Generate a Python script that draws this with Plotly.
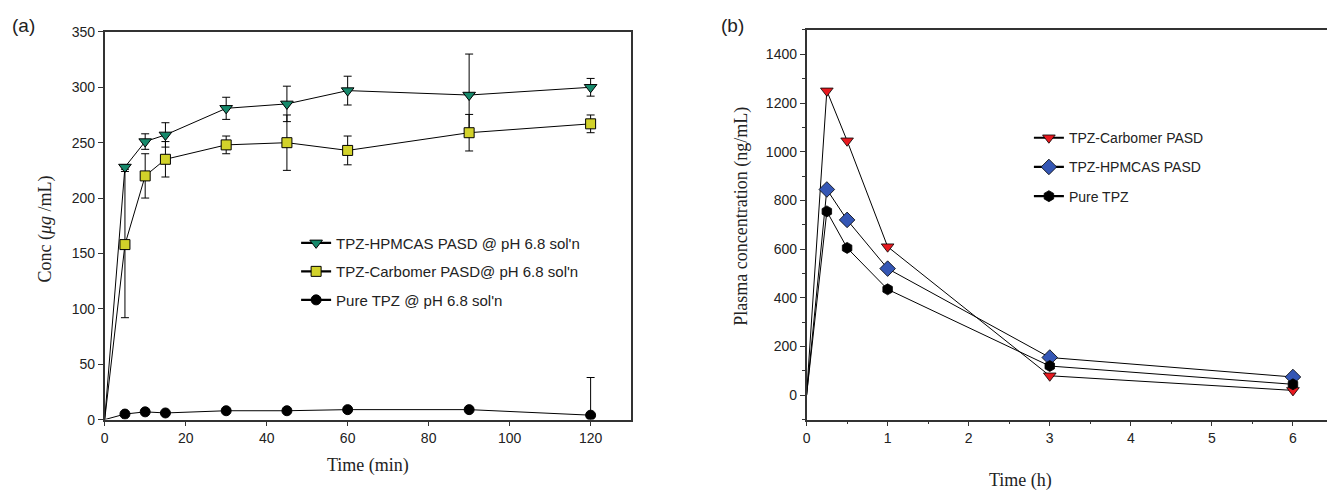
import plotly.graph_objects as go

# ---- Panel (a): in-vitro dissolution at pH 6.8 ----
time_min = [0, 5, 10, 15, 30, 45, 60, 90, 120]
hpmcas_conc = [0, 228, 251, 257, 281, 285, 297, 293, 300]
hpmcas_err = [0, 2, 7, 11, 10, 16, 13, 37, 8]
carbomer_conc = [0, 158, 220, 235, 248, 250, 243, 259, 267]
carbomer_err = [0, 66, 20, 16, 8, 25, 13, 16.5, 8]
pure_conc = [0, 5, 7, 6, 8, 8, 9, 9, 4]
pure_err = [0, 1, 1, 1, 1, 1, 1, 1, 34]

# ---- Panel (b): plasma concentration profile ----
time_h = [0, 0.25, 0.5, 1, 3, 6]
carbomer_plasma = [0, 1250, 1045, 610, 80, 20]
hpmcas_plasma = [0, 845, 720, 520, 155, 75]
pure_plasma = [0, 755, 605, 435, 120, 45]

W, H = 1327, 490

def px_x(p):
    return p / W

def px_y(p):
    return 1 - p / H

fig = go.Figure()

thin = dict(color="black", width=1)
err_style = dict(type="data", visible=True, color="black", thickness=1, width=4)


def add_series(x, y, name, symbol, size, color, xa, ya, leg, err=None, outline=1):
    mk = dict(symbol=symbol, size=size, color=color, line=dict(color="black", width=outline))
    # connecting line starting from the origin (no marker at t = 0)
    fig.add_trace(go.Scatter(x=x, y=y, mode="lines", line=thin, showlegend=False,
                             hoverinfo="skip", xaxis=xa, yaxis=ya))
    # sampled points with markers and error bars
    kw = {}
    if err is not None:
        kw["error_y"] = dict(array=err[1:], **err_style)
    fig.add_trace(go.Scatter(x=x[1:], y=y[1:], mode="markers", marker=mk, name=name,
                             showlegend=False, xaxis=xa, yaxis=ya, **kw))
    # legend key: heavier line with the marker
    fig.add_trace(go.Scatter(x=[None], y=[None], mode="lines+markers", name=name,
                             line=dict(color="black", width=2.2), marker=mk,
                             legendgroup=name, xaxis=xa, yaxis=ya, legend=leg))


add_series(time_min, hpmcas_conc, "TPZ-HPMCAS PASD @ pH 6.8 sol'n", "triangle-down", 11,
           "#16896b", "x", "y", "legend", err=hpmcas_err)
add_series(time_min, carbomer_conc, "TPZ-Carbomer PASD@ pH 6.8 sol'n", "square", 10,
           "#d2d22a", "x", "y", "legend", err=carbomer_err)
add_series(time_min, pure_conc, "Pure TPZ @ pH 6.8 sol'n", "circle", 10,
           "black", "x", "y", "legend", err=pure_err)

add_series(time_h, carbomer_plasma, "TPZ-Carbomer PASD", "triangle-down", 11,
           "#e8191f", "x2", "y2", "legend2", outline=0.8)
add_series(time_h, hpmcas_plasma, "TPZ-HPMCAS PASD", "diamond", 12,
           "#3557b5", "x2", "y2", "legend2", outline=0.8)
add_series(time_h, pure_plasma, "Pure TPZ", "hexagon", 11,
           "black", "x2", "y2", "legend2", outline=0.8)

tickfont = dict(family="Liberation Sans, Arial, sans-serif", size=14, color="#222")
axis_common = dict(showline=True, linecolor="#333", linewidth=1.5, ticks="outside",
                   ticklen=5, tickwidth=1, tickcolor="#333", showgrid=False,
                   zeroline=False, tickfont=tickfont)

fig.update_layout(
    width=W, height=H, margin=dict(l=0, r=0, t=0, b=0),
    paper_bgcolor="white", plot_bgcolor="white", showlegend=True,
    xaxis=dict(domain=[px_x(101), px_x(629)], range=[0, 130], tickvals=[0, 20, 40, 60, 80, 100, 120],
               mirror=True, anchor="y", **axis_common),
    yaxis=dict(domain=[px_y(425.5), px_y(24.7)], range=[0, 350], dtick=50,
               mirror=True, anchor="x", **axis_common),
    xaxis2=dict(domain=[px_x(805), 1.0], range=[0, 6.42], tickvals=[0, 1, 2, 3, 4, 5, 6],
                mirror=True, anchor="y2",
                minor=dict(ticks="outside", ticklen=3, dtick=0.5, tickcolor="#333"),
                **axis_common),
    yaxis2=dict(domain=[px_y(425.5), px_y(22.7)], range=[-100, 1500],
                tickvals=[0, 200, 400, 600, 800, 1000, 1200, 1400], anchor="x2",
                minor=dict(ticks="outside", ticklen=3, dtick=100, tickcolor="#333"),
                **axis_common),
    legend=dict(x=px_x(293), y=px_y(226), xanchor="left", yanchor="top",
                bgcolor="rgba(0,0,0,0)", tracegroupgap=6,
                font=dict(family="Liberation Sans, Arial, sans-serif", size=15, color="#222")),
    legend2=dict(x=px_x(1028), y=px_y(118), xanchor="left", yanchor="top",
                 bgcolor="rgba(0,0,0,0)", tracegroupgap=8,
                 font=dict(family="Liberation Sans, Arial, sans-serif", size=14, color="#222")),
)

serif = dict(family="Liberation Serif, Times New Roman, serif", size=18, color="#222")
sans = dict(family="Liberation Sans, Arial, sans-serif", size=19, color="#222")

annotations = [
    dict(text="(a)", x=px_x(20), y=px_y(18), font=sans),
    dict(text="(b)", x=px_x(731), y=px_y(18), font=sans),
    dict(text="Time (min)", x=px_x(365), y=px_y(473), font=serif),
    dict(text="Time (h)", x=px_x(1020), y=px_y(488), font=serif),
    dict(text="Conc (<i>μg</i> /mL)", x=px_x(42), y=px_y(228), font=serif, textangle=-90),
    dict(text="Plasma concentration (ng/mL)", x=px_x(740), y=px_y(215), font=serif, textangle=-90),
]
for a in annotations:
    fig.add_annotation(xref="paper", yref="paper", showarrow=False,
                       xanchor="center", yanchor="middle", **a)

fig.write_html("out.html")
